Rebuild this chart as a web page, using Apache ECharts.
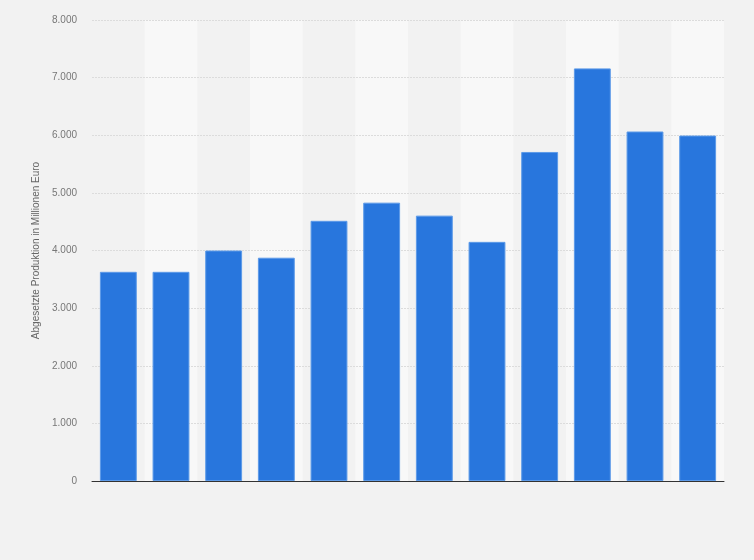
<!DOCTYPE html>
<html>
<head>
<meta charset="utf-8">
<script src="https://cdn.jsdelivr.net/npm/echarts@6/dist/echarts.min.js"></script>
<style>
html,body{margin:0;padding:0;background:#f2f2f2;}
#chart{width:754px;height:560px;}
</style>
</head>
<body>
<div id="chart"></div>
<script>
const categories = ['1','2','3','4','5','6','7','8','9','10','11','12'];
const values = [3630, 3630, 4000, 3875, 4515, 4830, 4605, 4150, 5710, 7160, 6065, 5995];
const yTicks = [0, 1000, 2000, 3000, 4000, 5000, 6000, 7000, 8000];
const yAxisTitle = 'Abgesetzte Produktion in Millionen Euro';

const chart = echarts.init(document.getElementById('chart'));
chart.setOption({
  backgroundColor: '#f2f2f2',
  animation: false,
  grid: { left: 92, right: 30, top: 20, bottom: 79 },
  xAxis: {
    type: 'category',
    data: categories,
    z: 0,
    axisLine: { show: true, lineStyle: { color: '#333', width: 1 } },
    axisTick: { show: false },
    axisLabel: { show: false },
    splitArea: { show: true, areaStyle: { color: ['rgba(0,0,0,0)', '#f8f8f8'] } }
  },
  yAxis: {
    type: 'value',
    z: 1,
    min: yTicks[0],
    max: yTicks[yTicks.length - 1],
    interval: 1000,
    name: yAxisTitle,
    nameLocation: 'middle',
    nameGap: 43,
    nameTextStyle: { color: '#666', fontSize: 10, fontFamily: 'Liberation Sans, Arial, sans-serif' },
    axisLine: { show: false },
    axisTick: { show: false },
    axisLabel: {
      margin: 15,
      color: '#777',
      fontSize: 10,
      fontFamily: 'Liberation Sans, Arial, sans-serif',
      formatter: v => v === 0 ? '0' : v.toLocaleString('de-DE')
    },
    splitLine: { show: true, showMinLine: false, lineStyle: { color: '#dcdcdc', type: [2, 1], width: 1 } }
  },
  series: [{
    type: 'bar',
    data: values,
    z: 2,
    barCategoryGap: '30%',
    itemStyle: { color: '#2876dd', borderColor: '#5c9ae8', borderWidth: 1 }
  }]
});
</script>
</body>
</html>
